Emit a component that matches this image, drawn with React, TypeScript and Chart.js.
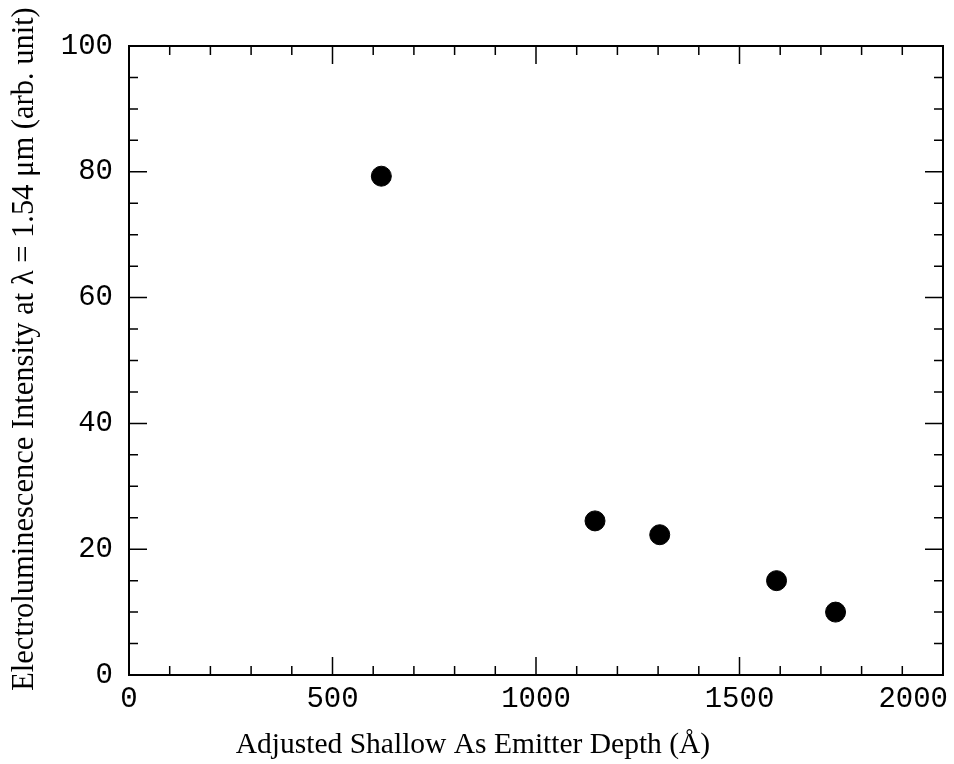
import React, { useEffect, useRef } from "react";
import { Chart, registerables } from "chart.js";

Chart.register(...registerables);

const depthA: number[] = [620, 1145, 1304, 1591, 1736];
const intensity: number[] = [79.3, 24.5, 22.3, 15.0, 10.0];

const xMin = 0, xMax = 2000, xMajor = 500, xMinor = 100;
const yMin = 0, yMax = 100, yMajor = 20, yMinor = 5;

const xTitle = "Adjusted Shallow As Emitter Depth (Å)";
const yTitle = "Electroluminescence Intensity at λ = 1.54 μm (arb. unit)";

const tickFont = "29px 'Liberation Mono', monospace";

const framePlugin = {
  id: "frameTicks",
  afterDraw(chart: any) {
    const { ctx, chartArea: a, scales } = chart;
    const xs = scales.x, ys = scales.y;
    ctx.save();
    ctx.strokeStyle = "#000";
    ctx.lineWidth = 2;
    ctx.strokeRect(a.left, a.top, a.right - a.left, a.bottom - a.top);
    ctx.lineWidth = 1.5;
    ctx.beginPath();
    for (let v = xMin; v <= xMax; v += xMinor) {
      const px = xs.getPixelForValue(v);
      const len = v % xMajor === 0 ? 18 : 9;
      ctx.moveTo(px, a.bottom);
      ctx.lineTo(px, a.bottom - len);
      ctx.moveTo(px, a.top);
      ctx.lineTo(px, a.top + len);
    }
    for (let v = yMin; v <= yMax; v += yMinor) {
      const py = ys.getPixelForValue(v);
      const len = v % yMajor === 0 ? 18 : 9;
      ctx.moveTo(a.left, py);
      ctx.lineTo(a.left + len, py);
      ctx.moveTo(a.right, py);
      ctx.lineTo(a.right - len, py);
    }
    ctx.stroke();

    // x tick labels (last one kept inside the page, as in the original)
    ctx.fillStyle = "#000";
    ctx.font = tickFont;
    ctx.textBaseline = "middle";
    const xt = xs.ticks;
    xt.forEach((t: any, i: number) => {
      const px = xs.getPixelForValue(t.value);
      if (i === xt.length - 1) {
        ctx.textAlign = "right";
        ctx.fillText(String(t.value), px + 5, a.bottom + 24);
      } else {
        ctx.textAlign = "center";
        ctx.fillText(String(t.value), px, a.bottom + 24);
      }
    });

    // axis titles
    ctx.textAlign = "center";
    ctx.font = "29.5px 'Liberation Serif', 'Times New Roman', serif";
    ctx.fillText(xTitle, 473, 745);
    ctx.font = "30.5px 'Liberation Serif', 'Times New Roman', serif";
    ctx.translate(25, 349);
    ctx.rotate(-Math.PI / 2);
    ctx.fillText(yTitle, 0, 0);
    ctx.restore();
  },
};

export default function App() {
  const ref = useRef<HTMLCanvasElement | null>(null);
  useEffect(() => {
    document.body.style.margin = "0";
    const canvas = ref.current;
    if (!canvas) return;
    const chart = new Chart(canvas, {
      type: "scatter",
      data: {
        datasets: [
          {
            data: depthA.map((x, i) => ({ x, y: intensity[i] })),
            backgroundColor: "#000",
            borderColor: "#000",
            pointRadius: 10,
            pointHoverRadius: 10,
          },
        ],
      },
      options: {
        animation: false,
        responsive: false,
        events: [],
        layout: { padding: { left: 0, right: 10, top: 46, bottom: 0 } },
        plugins: { legend: { display: false }, tooltip: { enabled: false } },
        scales: {
          x: {
            type: "linear",
            min: xMin,
            max: xMax,
            grid: { display: false, drawTicks: false },
            border: { display: false },
            ticks: {
              stepSize: xMajor,
              display: false,
            },
            afterFit(scale: any) {
              scale.height = 89;
              scale.paddingLeft = 0;
              scale.paddingRight = 0;
            },
          },
          y: {
            type: "linear",
            min: yMin,
            max: yMax,
            grid: { display: false, drawTicks: false },
            border: { display: false },
            ticks: {
              stepSize: yMajor,
              padding: 16,
              color: "#000",
              callback: (v: any) => String(v),
              font: { family: "'Liberation Mono', monospace", size: 29 },
            },
            afterFit(scale: any) {
              scale.width = 129;
              scale.paddingTop = 0;
              scale.paddingBottom = 0;
            },
          },
        },
      },
      plugins: [framePlugin],
    });
    return () => chart.destroy();
  }, []);
  return (
    <div style={{ width: 954, height: 764, background: "#fff" }}>
      <canvas ref={ref} width={954} height={764} style={{ display: "block" }} />
    </div>
  );
}
